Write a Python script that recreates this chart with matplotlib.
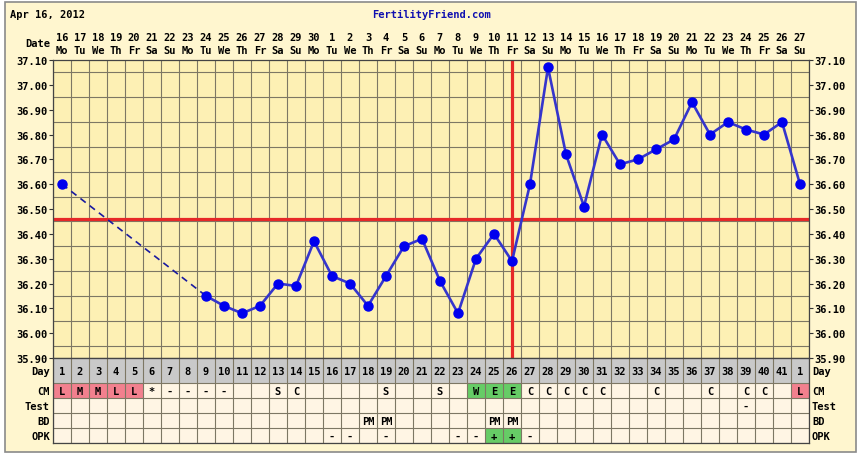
import numpy as np
import matplotlib
matplotlib.use('Agg')
import matplotlib.pyplot as plt
import matplotlib.transforms as mtransforms
from matplotlib.patches import Rectangle

# dados do gráfico
datas = ("16 17 18 19 20 21 22 23 24 25 26 27 28 29 30 1 2 3 4 5 6 7 8 9 10 "
         "11 12 13 14 15 16 17 18 19 20 21 22 23 24 25 26 27").split()
dias_semana = ["Mo", "Tu", "We", "Th", "Fr", "Sa", "Su"] * 6
dias_ciclo = ("1 2 3 4 5 6 7 8 9 10 11 12 13 14 15 16 17 18 19 20 21 22 23 24 25 "
              "26 27 28 29 30 31 32 33 34 35 36 37 38 39 40 41 1").split()
nan = np.nan
temperaturas = [36.60, nan, nan, nan, nan, nan, nan, nan,
                36.15, 36.11, 36.08, 36.11, 36.20, 36.19, 36.37, 36.23, 36.20,
                36.11, 36.23, 36.35, 36.38, 36.21, 36.08, 36.30, 36.40, 36.29,
                36.60, 37.07, 36.72, 36.51, 36.80, 36.68, 36.70, 36.74, 36.78,
                36.93, 36.80, 36.85, 36.82, 36.80, 36.85, 36.60]
linha_base = 36.46
dia_ovulacao = 26
cm = ["L", "M", "M", "L", "L", "*", "-", "-", "-", "-", "", "", "S", "C", "", "",
      "", "", "S", "", "", "S", "", "W", "E", "E", "C", "C", "C", "C", "C", "",
      "", "C", "", "", "C", "", "C", "C", "", "L"]
teste = [""] * 38 + ["-", "", "", ""]
bd = [""] * 17 + ["PM", "PM"] + [""] * 5 + ["PM", "PM"] + [""] * 16
opk = [""] * 15 + ["-", "-", "", "-", "", "", "", "-", "-", "+", "+", "-"] + [""] * 15

W, H = 862, 456
fonte = dict(family="DejaVu Sans Mono", fontweight="bold", fontsize=7.5)
cor_grade = "#7d7764"
cor_fundo = "#fff6cf"
cor_plot = "#fdf0b4"
cor_celula = "#fff5e4"
cor_cinza = "#c9c9c9"
cores_celula = {"L": "#f2808e", "M": "#f2808e", "W": "#66cc66", "E": "#66cc66", "+": "#66cc66"}


def fx(px):
    return px / W


def fy(py):
    return 1 - py / H


fig = plt.figure(figsize=(W / 100, H / 100), dpi=100)
fig.patch.set_facecolor("white")
moldura = Rectangle((fx(5), fy(453)), fx(851), 450 / H, transform=fig.transFigure,
                    facecolor=cor_fundo, edgecolor="#8a8a8a", linewidth=1.2, zorder=-10)
fig.patches.append(moldura)

dias = np.arange(1, len(temperaturas) + 1)
temps = np.array(temperaturas)

# --- gráfico de temperatura ---
ax = fig.add_axes([fx(53), fy(359), fx(756), 298 / H])
ax.set_facecolor(cor_plot)
ax.set_xlim(0.5, 42.5)
ax.set_ylim(35.90, 37.10)
ax.set_xticks([])
ax.set_xticks(np.arange(0.5, 43, 1), minor=True)
ax.set_yticks(np.arange(35.90, 37.11, 0.10))
ax.set_yticks(np.arange(35.90, 37.11, 0.05), minor=True)
ax.set_yticklabels([f"{v:.2f}" for v in np.arange(35.90, 37.11, 0.10)], **fonte)
ax.tick_params(axis="y", which="major", left=True, right=True, labelright=True,
               length=3, width=0.8, color="#333333", pad=1)
ax.tick_params(axis="both", which="minor", length=0)
ax.grid(True, which="minor", color=cor_grade, linewidth=0.8)
for s in ax.spines.values():
    s.set_color("#444444")
    s.set_linewidth(0.9)

# trecho tracejado (dias sem medição)
validos = ~np.isnan(temps)
xv, yv = dias[validos], temps[validos]
ax.plot(xv[:2], yv[:2], color="#1a1aa0", linewidth=1.2, linestyle=(0, (4, 3)), zorder=3)
ax.plot(xv[1:], yv[1:], color="#3535cc", linewidth=1.9, zorder=3)
ax.plot(xv, yv, linestyle="none", marker="o", markersize=6.5, color="#0000ee", zorder=4)

ax.axhline(linha_base, color="#e62828", linewidth=2.3, zorder=2)
ax.axvline(dia_ovulacao, color="#e62828", linewidth=2.3, zorder=2)

# cabeçalho e datas
fig.text(fx(10), fy(15), "Apr 16, 2012", ha="left", va="center", color="black", **fonte)
fig.text(fx(432), fy(15), "FertilityFriend.com", ha="center", va="center", color="#1010b0", **fonte)
fig.text(fx(50), fy(44), "Date", ha="right", va="center", color="black", **fonte)
trans_top = mtransforms.blended_transform_factory(ax.transData, fig.transFigure)
for d, data, sem in zip(dias, datas, dias_semana):
    ax.text(d, fy(38), data, ha="center", va="center", transform=trans_top, **fonte)
    ax.text(d, fy(51), sem, ha="center", va="center", transform=trans_top, **fonte)

# --- tabela inferior ---
tb = fig.add_axes([fx(53), fy(444), fx(756), 85 / H])
tb.set_facecolor(cor_celula)
tb.set_xlim(0.5, 42.5)
tb.set_ylim(85, 0)
tb.set_xticks([])
tb.set_yticks([])
for s in tb.spines.values():
    s.set_color("#444444")
    s.set_linewidth(0.9)

limites = [0, 25, 40, 55, 70, 85]
nomes = ["Day", "CM", "Test", "BD", "OPK"]
linhas = [dias_ciclo, cm, teste, bd, opk]

tb.add_patch(Rectangle((0.5, 0), 42, 25, facecolor=cor_cinza, edgecolor="none", zorder=0))
trans_lbl = mtransforms.blended_transform_factory(fig.transFigure, tb.transData)
for i, (nome, valores) in enumerate(zip(nomes, linhas)):
    topo, base = limites[i], limites[i + 1]
    meio = (topo + base) / 2
    for d, v in zip(dias, valores):
        if i > 0 and v in cores_celula:
            tb.add_patch(Rectangle((d - 0.5, topo), 1, base - topo,
                                   facecolor=cores_celula[v], edgecolor="none", zorder=0))
        if v:
            tb.text(d, meio + 0.5, v, ha="center", va="center", zorder=3, **fonte)
    tb.text(fx(50), meio + 0.5, nome, ha="right", va="center", transform=trans_lbl,
            clip_on=False, **fonte)
    tb.text(fx(812), meio + 0.5, nome, ha="left", va="center", transform=trans_lbl,
            clip_on=False, **fonte)

tb.vlines(np.arange(0.5, 43, 1), 0, 85, color=cor_grade, linewidth=0.8, zorder=1)
tb.hlines(limites, 0.5, 42.5, color=cor_grade, linewidth=0.8, zorder=1)

fig.savefig("out.png", dpi=100, facecolor=fig.get_facecolor())
